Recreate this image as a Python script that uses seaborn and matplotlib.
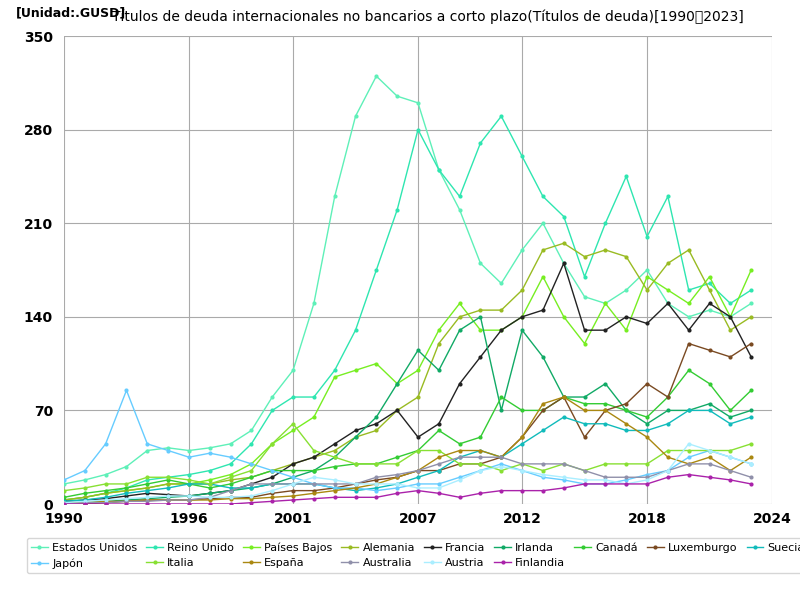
import numpy as np
import pandas as pd
import matplotlib
matplotlib.use("Agg")
import matplotlib.pyplot as plt
import seaborn as sns

years = list(range(1990, 2024))
series_names = ["Estados Unidos","Reino Unido","Países Bajos","Alemania","Francia","Irlanda","Canadá",
                "Luxemburgo","Suecia","Japón","Italia","España","Australia","Austria","Finlandia"]
colors = ["#5ef0b8","#2ee6b0","#77ee22","#99bb22","#222222","#11aa66","#33cc33",
          "#7a4a22","#11bbbb","#66ccff","#88e033","#aa8811","#9090aa","#aaeeff","#aa22aa"]

estados_unidos = [15,18,22,28,40,42,40,42,45,55,80,100,150,230,290,320,305,300,250,220,180,165,190,210,180,155,150,160,175,150,140,145,140,150]
reino_unido = [3,5,8,12,18,20,22,25,30,45,70,80,80,100,130,175,220,280,250,230,270,290,260,230,215,170,210,245,200,230,160,165,150,160]
paises_bajos = [3,5,8,10,12,15,15,18,22,30,45,55,65,95,100,105,90,100,130,150,130,130,140,170,140,120,150,130,170,160,150,170,140,175]
alemania = [3,5,8,10,12,15,15,15,18,20,25,30,35,40,50,55,70,80,120,140,145,145,160,190,195,185,190,185,160,180,190,160,130,140]
francia = [2,3,4,6,8,7,6,8,10,15,20,30,35,45,55,60,70,50,60,90,110,130,140,145,180,130,130,140,135,150,130,150,140,110]
irlanda = [1,1,2,3,4,5,6,8,10,12,15,20,25,35,50,65,90,115,100,130,140,70,130,110,80,80,90,70,60,70,70,75,65,70]
canada = [5,8,10,12,15,18,15,12,15,20,25,25,25,28,30,30,35,40,55,45,50,80,70,70,80,75,75,70,65,80,100,90,70,85]
luxemburgo = [0,0,1,2,3,3,3,4,5,5,8,10,10,12,15,18,20,25,25,30,30,35,50,70,80,50,70,75,90,80,120,115,110,120]
suecia = [2,3,5,8,10,12,15,15,12,12,15,15,15,12,10,12,15,20,25,35,40,35,45,55,65,60,60,55,55,60,70,70,60,65]
japon = [18,25,45,85,45,40,35,38,35,30,25,20,15,12,12,10,12,15,15,20,25,30,25,20,18,15,15,18,22,25,35,40,35,30]
italia = [10,12,15,15,20,20,18,15,20,25,45,60,40,35,30,30,30,40,40,30,30,25,30,25,30,25,30,30,30,40,40,40,40,45]
espana = [1,1,2,2,3,3,3,3,4,4,5,6,8,10,12,15,20,25,35,40,40,35,50,75,80,70,70,60,50,35,30,35,25,35]
australia = [0,1,1,2,2,3,3,5,10,15,15,15,15,15,15,20,22,25,30,35,35,35,30,30,30,25,20,20,20,25,30,30,25,20]
austria = [1,2,3,4,5,6,6,5,5,6,10,15,20,18,15,15,15,12,12,18,25,28,25,22,20,18,18,15,18,25,45,40,35,30]
finlandia = [0,0,0,0,0,0,0,0,0,1,2,3,4,5,5,5,8,10,8,5,8,10,10,10,12,15,15,15,15,20,22,20,18,15]

values = [estados_unidos,reino_unido,paises_bajos,alemania,francia,irlanda,canada,
          luxemburgo,suecia,japon,italia,espana,australia,austria,finlandia]

df = pd.DataFrame({"year": years * len(series_names),
                   "serie": [n for n in series_names for _ in years],
                   "valor": [v for vals in values for v in vals]})

fig, ax = plt.subplots(figsize=(8, 6), dpi=100)
sns.lineplot(data=df, x="year", y="valor", hue="serie", hue_order=series_names,
             palette=colors, marker="o", markersize=3, markeredgewidth=0, linewidth=1, ax=ax)
ax.set_xlim(1990, 2024)
ax.set_ylim(0, 350)
ax.set_xticks([1990, 1996, 2001, 2007, 2012, 2018, 2024])
ax.set_yticks([0, 70, 140, 210, 280, 350])
ax.tick_params(axis="x", labelsize=10, length=0, pad=6)
ax.tick_params(axis="y", labelsize=10, length=0, pad=8)
for t in ax.get_xticklabels() + ax.get_yticklabels():
    t.set_fontweight("bold")
ax.grid(True, color="#aaaaaa", linewidth=0.8)
ax.set_xlabel("")
ax.set_ylabel("")
for s in ax.spines.values():
    s.set_visible(False)
fig.text(0.14, 0.985, "Títulos de deuda internacionales no bancarios a corto plazo(Títulos de deuda)[1990～2023]",
         fontsize=10, va="top")
fig.text(0.02, 0.99, "[Unidad:.GUSD]", fontsize=9, fontweight="bold", va="top")

# row-major legend ordering with 9 columns, 2 rows
handles, labels = ax.get_legend_handles_labels()
ncol = 9
row1 = list(range(0, 9))
row2 = list(range(9, 15))
order = []
for c in range(ncol):
    order.append(row1[c])
    if c < len(row2):
        order.append(row2[c])
ax.legend([handles[i] for i in order], [labels[i] for i in order],
          loc="upper center", bbox_to_anchor=(0.5, -0.06), ncol=ncol, fontsize=8,
          frameon=True, handlelength=1.5, columnspacing=0.8, handletextpad=0.4)
fig.subplots_adjust(left=0.08, right=0.965, top=0.94, bottom=0.16)
fig.savefig("out.png")
